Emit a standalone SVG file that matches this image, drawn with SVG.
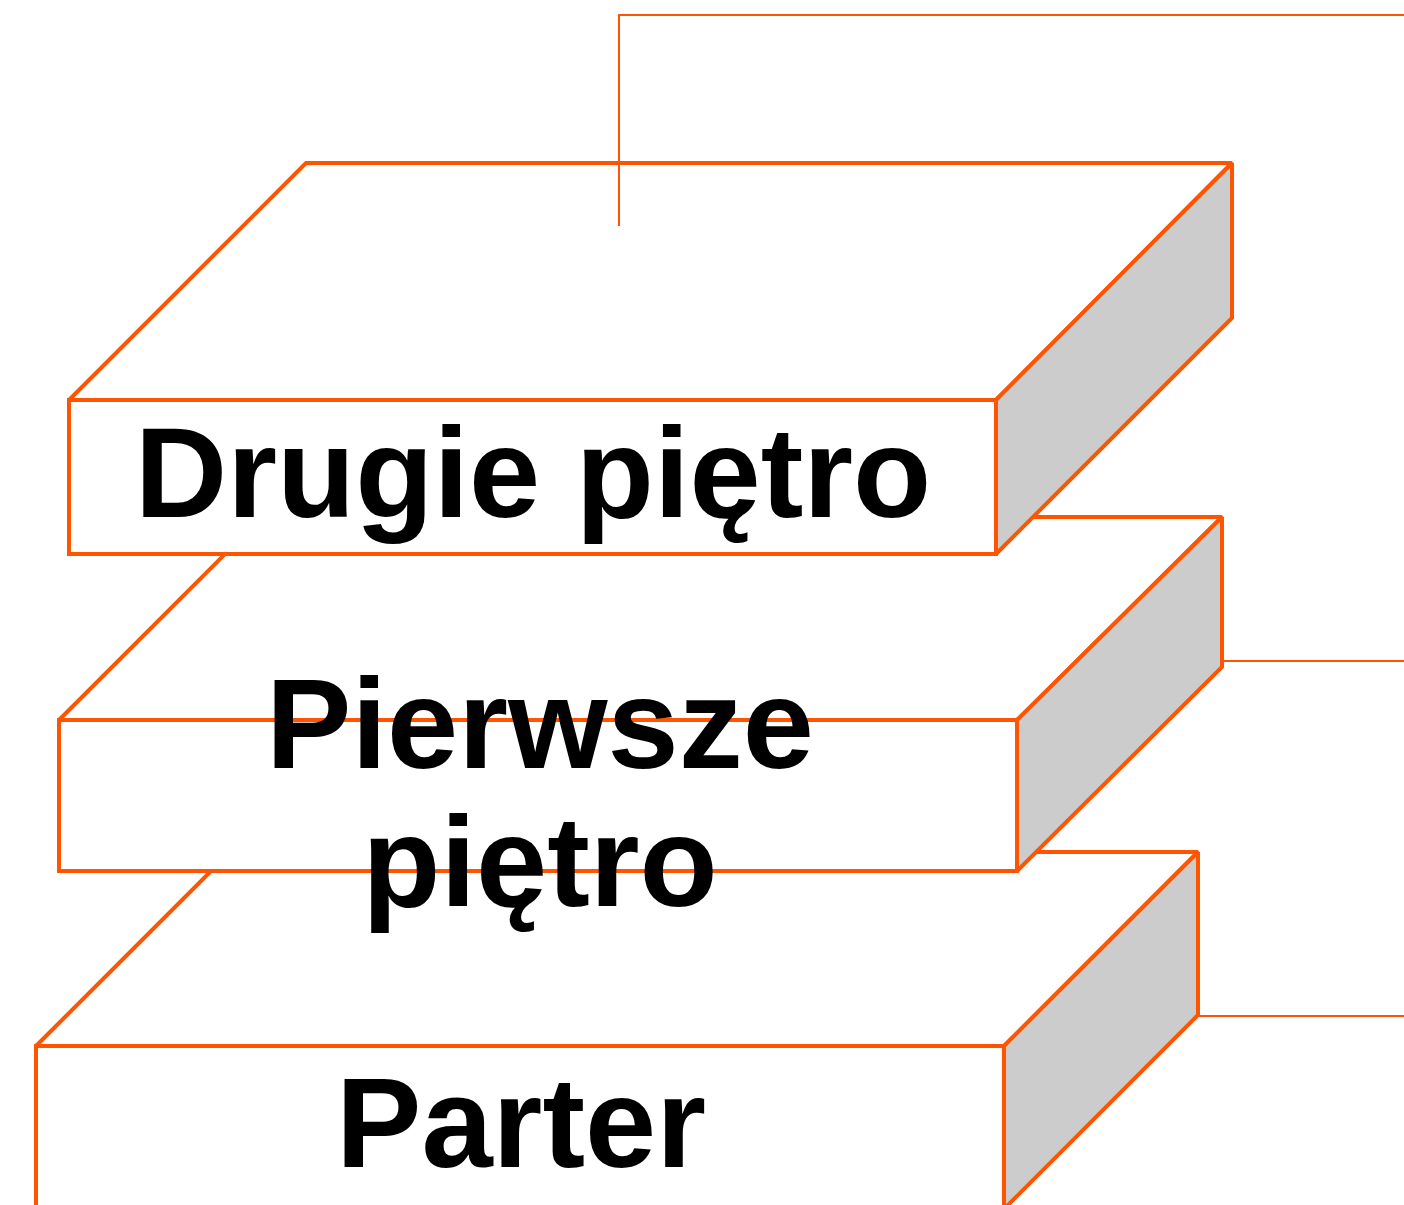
<svg xmlns="http://www.w3.org/2000/svg" width="1404" height="1205" viewBox="0 0 1404 1205">
<style>
.face{fill:#FFFFFF;stroke:#FF5500;stroke-width:4;stroke-linejoin:miter;stroke-miterlimit:2}
.side{fill:#CCCCCC;stroke:#FF5500;stroke-width:4;stroke-linejoin:miter;stroke-miterlimit:2}
.conn{fill:none;stroke:#FF5500;stroke-width:2}
.lbl{font-family:"Liberation Sans",Arial,sans-serif;font-weight:bold;font-size:128px;fill:#000000;text-anchor:middle}
</style>
<rect width="1404" height="1205" fill="#FFFFFF"/>
<g id="parter">
<polygon class="face" points="230,852 1198,852 1004,1046 36,1046"/>
<rect class="face" x="36" y="1046" width="968" height="163"/>
<polygon class="side" points="1004,1046 1198,852 1198,1015 1004,1209"/>
</g>
<g id="pierwsze-pietro">
<polygon class="face" points="262,517 1222,517 1017,720 59,720"/>
<rect class="face" x="59" y="720" width="958" height="151"/>
<polygon class="side" points="1017,720 1222,517 1222,667 1017,871"/>
</g>
<g id="drugie-pietro">
<polygon class="face" points="306,163 1232,163 996,400 69,400"/>
<rect class="face" x="69" y="400" width="927" height="154"/>
<polygon class="side" points="996,400 1232,163 1232,318 996,554"/>
</g>
<g id="connectors">
<polyline class="conn" points="619,226 619,15 1404,15"/>
<line class="conn" x1="1222" y1="661" x2="1404" y2="661"/>
<line class="conn" x1="1198" y1="1016" x2="1404" y2="1016"/>
</g>
<g id="labels">
<text class="lbl" x="533" y="517">Drugie piętro</text>
<text class="lbl" x="540" y="768">Pierwsze</text>
<text class="lbl" x="540" y="906">piętro</text>
<text class="lbl" x="521" y="1167">Parter</text>
</g>
</svg>
